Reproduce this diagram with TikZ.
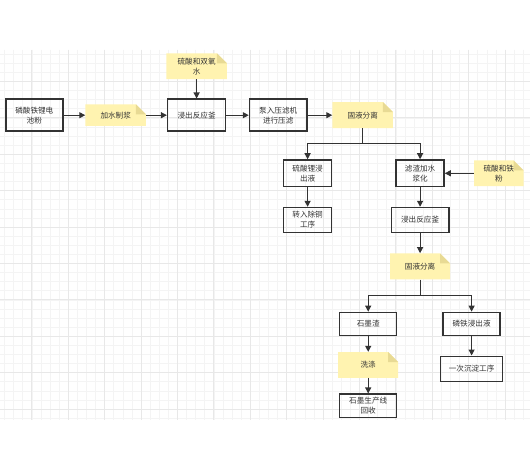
\documentclass[tikz,border=0pt]{standalone}
\usepackage{fontspec}
\setmainfont{Noto Sans CJK SC}
\usetikzlibrary{arrows.meta}
\definecolor{gridminor}{HTML}{F4F4F4}
\definecolor{gridmajor}{HTML}{E8E8E8}
\definecolor{notefill}{HTML}{FFF3B0}
\definecolor{notefold}{HTML}{E8DA94}
\definecolor{ink}{HTML}{333333}
\begin{document}
\begin{tikzpicture}[x=1pt,y=-1pt,
  font=\fontsize{7.6}{10}\selectfont,
  box/.style={draw=ink, line width=1.4pt, text=ink, align=center, inner sep=0pt},
  note/.style={text=ink, align=center, inner sep=0pt,
    path picture={
      \fill[notefill] (path picture bounding box.south west) -- (path picture bounding box.north west)
        -- ([xshift=-10pt]path picture bounding box.north east)
        -- ([yshift=-10pt]path picture bounding box.north east)
        -- (path picture bounding box.south east) -- cycle;
      \fill[notefold] ([xshift=-10pt]path picture bounding box.north east)
        -- ([xshift=-10pt,yshift=-10pt]path picture bounding box.north east)
        -- ([yshift=-10pt]path picture bounding box.north east) -- cycle;
    }},
  arr/.style={draw=ink, line width=1.1pt, -{Triangle[length=6pt,width=6pt]}},
  minorline/.style={draw=gridminor, line width=0.5pt},
  majorline/.style={draw=gridmajor, line width=0.8pt}
]
\useasboundingbox (0,0) rectangle (530,470);
\fill[white] (0,0) rectangle (530,470);
% grid
\foreach \i [evaluate=\i as \gx using 4.5+9.1*\i] in {0,...,57}
  \draw[minorline] (\gx,50) -- (\gx,419.5);
\foreach \j [evaluate=\j as \gy using 54.1+9.1*\j] in {0,...,40}
  \draw[minorline] (0,\gy) -- (530,\gy);
\foreach \i [evaluate=\i as \gx using 31.8+36.4*\i] in {0,...,13}
  \draw[majorline] (\gx,50) -- (\gx,419.5);
\foreach \j [evaluate=\j as \gy using 81.4+36.4*\j] in {0,...,9}
  \draw[majorline] (0,\gy) -- (530,\gy);

% nodes
\node[box, minimum width=57pt, minimum height=32pt] (pow) at (34.3,115.2) {磷酸铁锂电\\池粉};
\node[note, minimum width=60.5pt, minimum height=21.6pt] (slurry) at (115.7,115.2) {加水制浆};
\node[box, minimum width=58pt, minimum height=32pt] (r1) at (196.6,115.2) {浸出反应釜};
\node[note, minimum width=60.5pt, minimum height=25.7pt] (acid1) at (196.6,66.2) {硫酸和双氧\\水};
\node[box, minimum width=57.4pt, minimum height=32pt] (press) at (278.2,115.2) {泵入压滤机\\进行压滤};
\node[note, minimum width=60.5pt, minimum height=26pt] (sep1) at (362.7,115.2) {固液分离};
\node[box, minimum width=48pt, minimum height=26.7pt] (li) at (307.6,173.3) {硫酸锂浸\\出液};
\node[box, minimum width=48pt, minimum height=25pt] (cu) at (307.6,220) {转入除铜\\工序};
\node[box, minimum width=48pt, minimum height=26.7pt] (slag) at (420.1,173.3) {滤渣加水\\浆化};
\node[note, minimum width=49.6pt, minimum height=25.7pt] (acid2) at (498.8,173.3) {硫酸和铁\\粉};
\node[box, minimum width=57.4pt, minimum height=25pt] (r2) at (420.1,220) {浸出反应釜};
\node[note, minimum width=60pt, minimum height=26pt] (sep2) at (420.1,266.4) {固液分离};
\node[box, minimum width=57pt, minimum height=23.3pt] (gr) at (368.2,324) {石墨渣};
\node[box, minimum width=57pt, minimum height=23.3pt] (pfe) at (471.6,324) {磷铁浸出液};
\node[note, minimum width=60pt, minimum height=25.7pt] (wash) at (368.2,364.9) {洗涤};
\node[box, minimum width=57pt, minimum height=23.3pt] (rec) at (368.2,405.8) {石墨生产线\\回收};
\node[box, minimum width=62pt, minimum height=25.4pt] (pre) at (471.6,368.9) {一次沉淀工序};

% connectors
\draw[arr] (pow) -- (slurry);
\draw[arr] (slurry) -- (r1);
\draw[arr] (acid1) -- (r1);
\draw[arr] (r1) -- (press);
\draw[arr] (press) -- (sep1);
\coordinate (j1) at (362.7,143.6);
\draw[arr] (sep1.south) -- (j1) -| (li.north);
\draw[arr] (j1) -| (slag.north);
\draw[arr] (li) -- (cu);
\draw[arr] (slag) -- (r2);
\draw[arr] (acid2) -- (slag);
\draw[arr] (r2) -- (sep2);
\coordinate (j2) at (420.1,295.6);
\draw[arr] (sep2.south) -- (j2) -| (gr.north);
\draw[arr] (j2) -| (pfe.north);
\draw[arr] (gr) -- (wash);
\draw[arr] (wash) -- (rec);
\draw[arr] (pfe) -- (pre);
\end{tikzpicture}
\end{document}
